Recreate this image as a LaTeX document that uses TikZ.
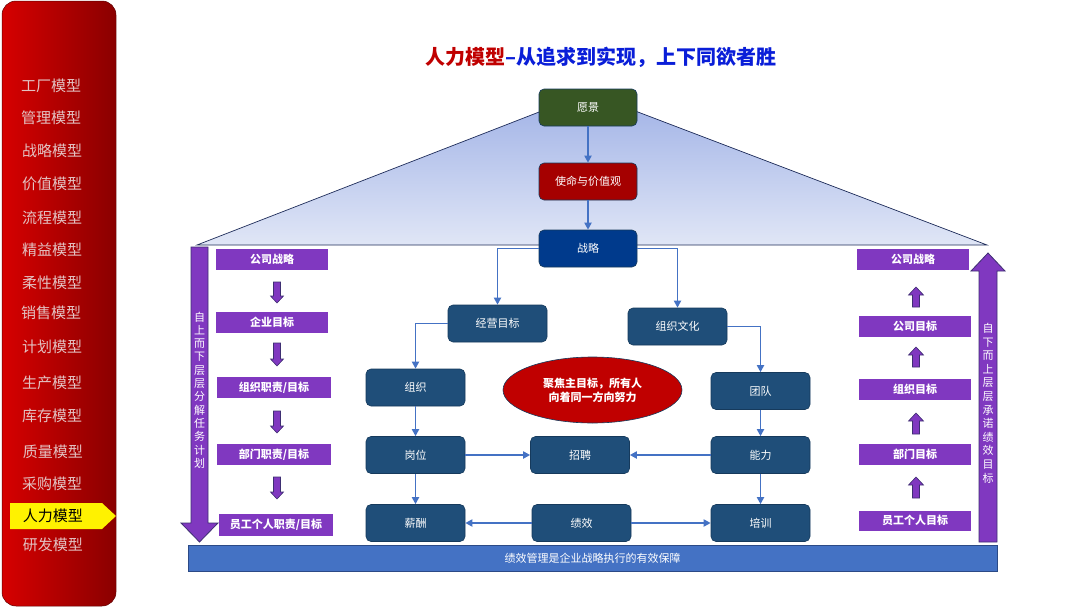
\documentclass[tikz,border=0pt]{standalone}
\usepackage{fontspec}
\setmainfont{Noto Sans CJK SC}
\usetikzlibrary{shapes.geometric,arrows.meta}
\definecolor{sideL}{HTML}{D60000}
\definecolor{sideR}{HTML}{8A0000}
\definecolor{menutxt}{HTML}{E3C2C2}
\definecolor{titred}{HTML}{C00000}
\definecolor{titblue}{HTML}{0A1ED8}
\definecolor{triTop}{HTML}{9FB1E6}
\definecolor{triBot}{HTML}{E0E6F6}
\definecolor{triLine}{HTML}{1F2D5A}
\definecolor{visgreen}{HTML}{375623}
\definecolor{misred}{HTML}{A50000}
\definecolor{strblue}{HTML}{003A8C}
\definecolor{nodeblue}{HTML}{1F4E79}
\definecolor{nodeedge}{HTML}{163A5C}
\definecolor{connblue}{HTML}{4472C4}
\definecolor{purp}{HTML}{8038C0}
\definecolor{purpedge}{HTML}{3E2F72}
\definecolor{barblue}{HTML}{4472C4}
\definecolor{baredge}{HTML}{2B4A86}
\definecolor{ellred}{HTML}{C00000}
\tikzset{
  x=1pt,y=-1pt,
  menu/.style={font=\fontsize{15}{15}\selectfont, text=menutxt},
  topbox/.style={rounded corners=5pt, draw=nodeedge, line width=0.6pt, minimum width=98pt, minimum height=37pt, text=white, font=\fontsize{11}{11}\selectfont, inner sep=0pt},
  hrbox/.style={rounded corners=5pt, fill=nodeblue, draw=nodeedge, line width=0.6pt, minimum width=99pt, minimum height=37pt, text=white, font=\fontsize{11}{11}\selectfont, inner sep=0pt},
  pbox/.style={fill=purp, minimum height=21pt, text=white, font=\bfseries\fontsize{11}{11}\selectfont, inner sep=0pt},
  conn/.style={draw=connblue, line width=1.8pt, -{Triangle[length=7pt,width=7pt]}},
  bigarr/.style={fill=purp, draw=purpedge, line width=0.8pt},
  smallarr/.style={fill=purp, draw=purpedge, line width=0.6pt},
  vtext/.style={text=white, align=center, inner sep=0pt},
}
\newcommand\downarr[3]{\draw[smallarr] (#1-3.5,#2) -- (#1+3.5,#2) -- (#1+3.5,#3-7) -- (#1+6.5,#3-7) -- (#1,#3) -- (#1-6.5,#3-7) -- (#1-3.5,#3-7) -- cycle;}
\newcommand\uparr[3]{\draw[smallarr] (#1-3.5,#3) -- (#1+3.5,#3) -- (#1+3.5,#2+8) -- (#1+7.5,#2+8) -- (#1,#2) -- (#1-7.5,#2+8) -- (#1-3.5,#2+8) -- cycle;}
\begin{document}
\begin{tikzpicture}
\useasboundingbox (0,0) rectangle (1080,608);
\fill[white] (0,0) rectangle (1080,608);
% sidebar
\shade[left color=sideL, right color=sideR, rounded corners=14pt] (2,1) rectangle (116,606);
\draw[sideR!70!black, line width=0.5pt, rounded corners=14pt] (2,1) rectangle (116,606);
\node[menu] (m1) at (51,86) {工厂模型};
\node[menu] (m2) at (51,118) {管理模型};
\node[menu] (m3) at (52,151) {战略模型};
\node[menu] (m4) at (52,184) {价值模型};
\node[menu] (m5) at (52,218) {流程模型};
\node[menu] (m6) at (52,250) {精益模型};
\node[menu] (m7) at (52,283) {柔性模型};
\node[menu] (m8) at (51,313) {销售模型};
\node[menu] (m9) at (52,347) {计划模型};
\node[menu] (m10) at (52,383) {生产模型};
\node[menu] (m11) at (52,416) {库存模型};
\node[menu] (m12) at (53,452) {质量模型};
\node[menu] (m13) at (52,484) {采购模型};
\fill[yellow] (10,503) -- (102,503) -- (116,516) -- (102,529) -- (10,529) -- cycle;
\node[menu, text=black] (m14) at (53,516) {人力模型};
\node[menu] (m15) at (53,545) {研发模型};
% title
\node[font=\bfseries\fontsize{20}{20}\selectfont] (title) at (601,57) {\textcolor{titred}{人力模型}\textcolor{titblue}{–从追求到实现，上下同欲者胜}};
% triangle
\shadedraw[top color=triTop, bottom color=triBot, draw=triLine, line width=0.7pt] (197,245) -- (588,93) -- (987,245) -- cycle;
% top column
\node[topbox, fill=visgreen] (vision) at (588,107.5) {愿景};
\node[topbox, fill=misred] (mission) at (588,181.5) {使命与价值观};
\node[topbox, fill=strblue] (strategy) at (588,248.5) {战略};
% HR nodes
\node[hrbox] (goal) at (497.5,323.5) {经营目标};
\node[hrbox] (culture) at (677.5,326.5) {组织文化};
\node[hrbox] (org) at (415.5,387.5) {组织};
\node[hrbox] (team) at (760.5,391) {团队};
\node[hrbox] (post) at (415.5,455) {岗位};
\node[hrbox] (recruit) at (580,455) {招聘};
\node[hrbox] (ability) at (760.5,455) {能力};
\node[hrbox] (pay) at (415.5,523) {薪酬};
\node[hrbox] (perf) at (581.5,523) {绩效};
\node[hrbox] (train) at (760.5,523) {培训};
\node[ellipse, fill=ellred, draw=nodeedge, line width=0.6pt, minimum width=179pt, minimum height=66pt, inner sep=0pt, text=white, align=center, font=\bfseries\fontsize{11}{14}\selectfont] (focus) at (592.5,390) {聚焦主目标，所有人\\向着同一方向努力};
% connectors
\draw[conn] (vision) -- (mission);
\draw[conn] (mission) -- (strategy);
\draw[conn] (strategy.west) -| (goal.north);
\draw[conn] (strategy.east) -| (culture.north);
\draw[conn] (goal.west) -| (org.north);
\draw[conn] (culture.east) -| (team.north);
\draw[conn] (org) -- (post);
\draw[conn] (post) -- (pay);
\draw[conn] (team) -- (ability);
\draw[conn] (ability) -- (train);
\draw[conn] (post) -- (recruit);
\draw[conn] (ability) -- (recruit);
\draw[conn] (perf) -- (pay);
\draw[conn] (perf) -- (train);
% bottom bar
\node[fill=barblue, draw=baredge, line width=0.8pt, minimum width=809pt, minimum height=26pt, inner sep=0pt, text=white, font=\fontsize{11}{11}\selectfont] (bar) at (592.5,558.5) {绩效管理是企业战略执行的有效保障};
% left big arrow
\draw[bigarr] (191,247) -- (208,247) -- (208,523) -- (218,523) -- (199.5,542) -- (181,523) -- (191,523) -- cycle;
\node[vtext, font=\fontsize{11}{13.3}\selectfont] (ltext) at (199.5,390) {自\\上\\而\\下\\层\\层\\分\\解\\任\\务\\计\\划};
% right big arrow
\draw[bigarr] (979,542) -- (997,542) -- (997,271) -- (1005,271) -- (988,253) -- (971,271) -- (979,271) -- cycle;
\node[vtext, font=\fontsize{11}{13.6}\selectfont] (rtext) at (988,403) {自\\下\\而\\上\\层\\层\\承\\诺\\绩\\效\\目\\标};
% left purple boxes
\node[pbox, minimum width=112pt] (l1) at (272,259.5) {公司战略};
\node[pbox, minimum width=112pt] (l2) at (272,322.5) {企业目标};
\node[pbox, minimum width=114pt] (l3) at (274,387.5) {组织职责/目标};
\node[pbox, minimum width=114pt] (l4) at (274,454.5) {部门职责/目标};
\node[pbox, minimum width=114pt, minimum height=22pt] (l5) at (276,525) {员工个人职责/目标};
\downarr{277}{282}{303}
\downarr{277}{343}{366}
\downarr{277}{411}{433}
\downarr{277}{477}{499}
% right purple boxes
\node[pbox, minimum width=112pt] (r1) at (913,259.5) {公司战略};
\node[pbox, minimum width=112pt] (r2) at (915,326.5) {公司目标};
\node[pbox, minimum width=112pt] (r3) at (915,389.5) {组织目标};
\node[pbox, minimum width=112pt] (r4) at (915,454.5) {部门目标};
\node[pbox, minimum width=112pt, minimum height=20pt] (r5) at (915,520.5) {员工个人目标};
\uparr{916}{287}{307}
\uparr{916}{347}{367}
\uparr{916}{413}{434}
\uparr{916}{477}{498}
\end{tikzpicture}
\end{document}
